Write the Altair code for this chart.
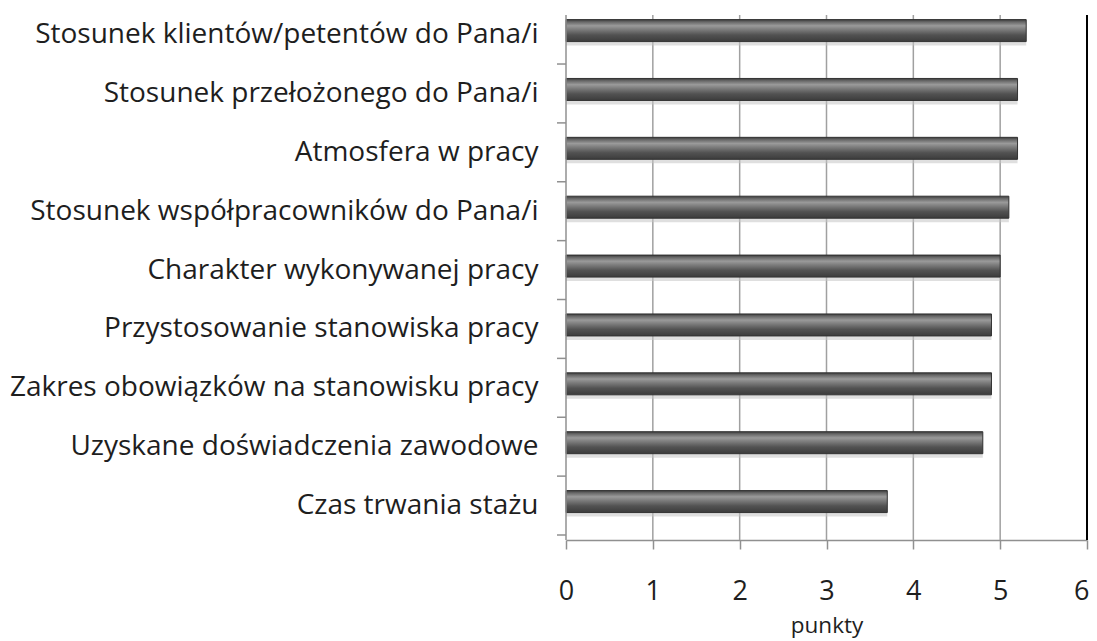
import altair as alt
import pandas as pd

# Categories from top to bottom and their values (points)
categories = [
    "Stosunek klientów/petentów do Pana/i",
    "Stosunek przełożonego do Pana/i",
    "Atmosfera w pracy",
    "Stosunek współpracowników do Pana/i",
    "Charakter wykonywanej pracy",
    "Przystosowanie stanowiska pracy",
    "Zakres obowiązków na stanowisku pracy",
    "Uzyskane doświadczenia zawodowe",
    "Czas trwania stażu",
]
values = [5.3, 5.2, 5.2, 5.1, 5.0, 4.9, 4.9, 4.8, 3.7]
x_ticks = [0, 1, 2, 3, 4, 5, 6]
grid_values = [1, 2, 3, 4, 5]
axis_title = "punkty"

n = len(categories)
df = pd.DataFrame({
    "cat": categories,
    "value": values,
    "pos": [n - 1 - i + 0.5 for i in range(n)],
})
bottom_up = list(reversed(categories))
label_expr = "[" + ",".join("'" + c + "'" for c in bottom_up) + "][floor(datum.value)]"

PLOT_W, PLOT_H = 521, 532
band_px = 60
y_max = PLOT_H / band_px

xscale = alt.Scale(domain=[0, 6], nice=False, zero=True)
yscale = alt.Scale(domain=[0, y_max], nice=False, zero=False)
FONT = "Open Sans"
TXT = "#1e1e1e"

x_axis = alt.Axis(
    values=x_ticks, title=axis_title, grid=False, labelFlush=False,
    labelAlign={"expr": "datum.value == 6 ? 'right' : 'center'"},
    labelOffset={"expr": "datum.value == 6 ? 2 : 0"},
    labelFont=FONT, labelFontSize=27, labelColor=TXT,
    labelPadding=29, tickSize=9, tickColor="#909090", tickWidth=1.5,
    domainColor="#909090", domainWidth=1.5,
    titleFont=FONT, titleFontSize=22.5, titleFontWeight="normal",
    titleColor=TXT, titlePadding=10,
)
y_axis = alt.Axis(
    values=[i + 0.5 for i in range(n)], labelExpr=label_expr,
    title=None, domain=False, ticks=False, grid=False,
    labelFont=FONT, labelFontSize=28, labelColor=TXT,
    labelPadding=28, labelOffset=0, labelLimit=600,
)

grad = alt.Gradient(
    gradient="linear",
    stops=[
        alt.GradientStop(color="#3a3a3a", offset=0),
        alt.GradientStop(color="#666666", offset=0.1),
        alt.GradientStop(color="#9a9a9a", offset=0.28),
        alt.GradientStop(color="#7c7c7c", offset=0.45),
        alt.GradientStop(color="#525252", offset=0.7),
        alt.GradientStop(color="#3c3c3c", offset=1),
    ],
    x1=0, x2=0, y1=0, y2=1,
)

grid = alt.Chart(pd.DataFrame({"value": grid_values})).mark_rule(
    color="#a0a0a0", strokeWidth=1.5
).encode(
    x=alt.X("value:Q", scale=xscale, axis=x_axis),
    y=alt.value(7),
    y2=alt.value(PLOT_H),
)

right_line = alt.Chart(pd.DataFrame({"value": [6]})).mark_rule(
    color="#000000", strokeWidth=2
).encode(
    x=alt.X("value:Q", scale=xscale, axis=x_axis),
    y=alt.value(7),
    y2=alt.value(PLOT_H),
)

y_line = alt.Chart(pd.DataFrame({"g": [0]})).mark_rule(
    color="#909090", strokeWidth=1.5
).encode(
    x=alt.value(0),
    y=alt.value(7),
    y2=alt.value(PLOT_H),
)

y_ticks = alt.Chart(pd.DataFrame({"pos": list(range(n))})).mark_rule(
    color="#909090", strokeWidth=1.5
).encode(
    x=alt.value(-9),
    x2=alt.value(0),
    y=alt.Y("pos:Q", scale=yscale, axis=y_axis),
)

shadow = alt.Chart(df).mark_bar(
    orient="horizontal", size=24, yOffset=-1, color="#c4c4c4", opacity=0.55
).encode(
    x=alt.X("value:Q", scale=xscale, axis=x_axis),
    y=alt.Y("pos:Q", scale=yscale, axis=y_axis),
)

bars = alt.Chart(df).mark_bar(
    orient="horizontal", size=22, yOffset=-4, color=grad,
    stroke="#333333", strokeWidth=1,
).encode(
    x=alt.X("value:Q", scale=xscale, axis=x_axis),
    y=alt.Y("pos:Q", scale=yscale, axis=y_axis),
    tooltip=["cat", "value"],
)

chart = alt.layer(grid, right_line, shadow, bars, y_line, y_ticks).properties(
    width=PLOT_W, height=PLOT_H,
    padding={"left": 558, "top": 0, "right": 2, "bottom": 101},
    autosize=alt.AutoSizeParams(type="none"),
).configure_view(stroke=None)

chart.save("out.html", embed_options={"renderer": "svg", "actions": False})
